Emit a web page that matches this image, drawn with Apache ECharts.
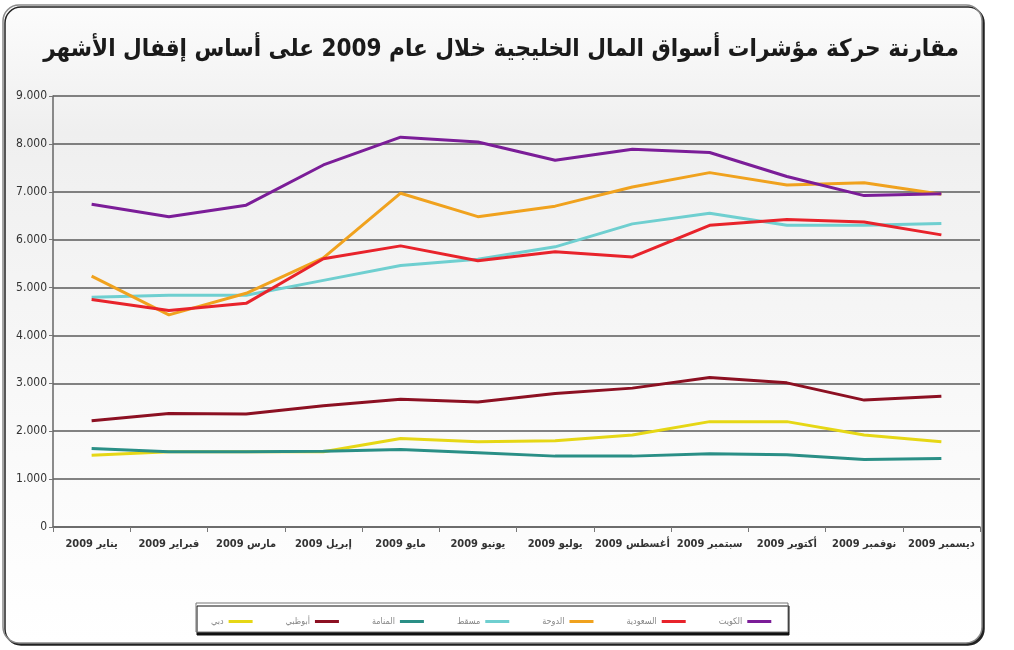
<!DOCTYPE html>
<html>
<head>
<meta charset="utf-8">
<script src="https://cdn.jsdelivr.net/npm/echarts@6/dist/echarts.min.js"></script>
<style>
html,body{margin:0;padding:0;background:#fff;}
#container{width:1014px;height:650px;}
</style>
</head>
<body>
<div id="container"></div>
<script>
//الأشهر
var months = ['يناير 2009','فبراير 2009','مارس 2009','إبريل 2009','مايو 2009','يونيو 2009',
    'يوليو 2009','أغسطس 2009','سبتمبر 2009','أكتوبر 2009','نوفمبر 2009','ديسمبر 2009'];
var yTicks = [0, 1000, 2000, 3000, 4000, 5000, 6000, 7000, 8000, 9000];

//قيم المؤشرات
var kuwait  = [6740, 6480, 6720, 7560, 8140, 8040, 7660, 7890, 7820, 7320, 6920, 6960];
var saudi   = [4750, 4520, 4670, 5600, 5870, 5560, 5750, 5640, 6300, 6420, 6370, 6100];
var doha    = [5240, 4430, 4880, 5620, 6970, 6480, 6700, 7100, 7400, 7140, 7190, 6950];
var muscat  = [4800, 4840, 4840, 5150, 5460, 5590, 5850, 6330, 6550, 6300, 6300, 6340];
var manama  = [1640, 1570, 1570, 1580, 1620, 1550, 1480, 1480, 1530, 1510, 1410, 1430];
var abudhabi= [2220, 2370, 2360, 2530, 2670, 2610, 2790, 2900, 3120, 3010, 2650, 2730];
var dubai   = [1500, 1570, 1570, 1570, 1850, 1780, 1800, 1920, 2200, 2200, 1920, 1780];

var names  = ['الكويت','السعودية','الدوحة','مسقط','المنامة','أبوظبي','دبي'];
var colors = ['#7b1d98','#e8232b','#f0a21e','#6fcfd0','#2a8f86','#8c1022','#e6d715'];
var values = [kuwait, saudi, doha, muscat, manama, abudhabi, dubai];

var chart = echarts.init(document.getElementById('container'));

var series = [];
for (var i = 0; i < names.length; i++) {
    series.push({
        name: names[i],
        type: 'line',
        data: values[i],
        symbol: 'none',
        z: 10 - i,
        lineStyle: {width: 3, color: colors[i]},
        itemStyle: {color: colors[i]}
    });
}

var option = {
    animation: false,
    textStyle: {fontFamily: 'DejaVu Sans Condensed'},
    graphic: [
        {   //الإطار الخارجي
            type: 'rect', z: -10,
            shape: {x: 3, y: 5, width: 979, height: 638, r: 16},
            style: {
                fill: new echarts.graphic.LinearGradient(0, 0, 0, 1, [
                    {offset: 0, color: '#fcfcfc'},
                    {offset: 0.2, color: '#efefef'},
                    {offset: 0.65, color: '#f9f9f9'},
                    {offset: 1, color: '#ffffff'}
                ]),
                stroke: '#8a8a8a', lineWidth: 1.5,
                shadowColor: '#222', shadowOffsetX: 2, shadowOffsetY: 2, shadowBlur: 0
            }
        },
        {   //إطار وسيلة الإيضاح
            type: 'rect', z: -5,
            shape: {x: 196, y: 603, width: 592, height: 29},
            style: {
                fill: '#fff', stroke: '#777', lineWidth: 1,
                shadowColor: '#111', shadowOffsetX: 1, shadowOffsetY: 3, shadowBlur: 0
            }
        }
    ],
    title: {
        text: 'مقارنة حركة مؤشرات أسواق المال الخليجية خلال عام 2009 على أساس إقفال الأشهر',
        left: 496, top: 33, textAlign: 'center',
        textStyle: {fontSize: 24, fontWeight: 'bold', color: '#1a1a1a', fontFamily: 'DejaVu Sans Condensed'}
    },
    legend: {
        data: names.slice().reverse(),
        left: 206, top: 612,
        align: 'right',
        itemWidth: 24, itemHeight: 3, itemGap: 33,
        icon: 'rect',
        textStyle: {fontSize: 9, color: '#888'}
    },
    grid: {left: 53, right: 34, top: 96, bottom: 123},
    xAxis: {
        type: 'category',
        data: months,
        boundaryGap: true,
        axisLine: {lineStyle: {color: '#666', width: 1.5}},
        axisTick: {show: true, length: 5, lineStyle: {color: '#777'}},
        axisLabel: {fontSize: 11, fontWeight: 'bold', color: '#333', margin: 12, interval: 0}
    },
    yAxis: {
        type: 'value',
        min: yTicks[0], max: yTicks[yTicks.length - 1], interval: 1000,
        axisLine: {show: true, lineStyle: {color: '#666', width: 1.5}},
        axisTick: {show: true, length: 4, lineStyle: {color: '#777'}},
        axisLabel: {
            fontSize: 12, color: '#333', margin: 6,
            formatter: function (v) { return v === 0 ? '0' : (v / 1000).toFixed(3); }
        },
        splitLine: {show: true, lineStyle: {color: '#5a5a5a', width: 1.5, type: 'solid'}}
    },
    series: series
};
chart.setOption(option, true);
window.onresize = function () { chart.resize(); };
</script>
</body>
</html>
